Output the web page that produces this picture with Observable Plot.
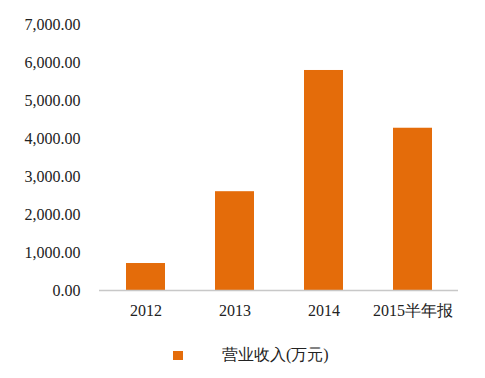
<!DOCTYPE html>
<html>
<head>
<meta charset="utf-8">
<script src="https://cdn.jsdelivr.net/npm/d3@7"></script>
<script src="https://cdn.jsdelivr.net/npm/@observablehq/plot@0.6"></script>
<style>
  html, body { margin: 0; padding: 0; background: #fff; }
  #wrap { position: relative; width: 485px; height: 378px; font-family: "Times New Roman", "Liberation Serif", "DejaVu Serif", serif; }
  #wrap svg text { font-family: "Times New Roman", "Liberation Serif", "DejaVu Serif", serif; }
  #legend { position: absolute; left: 173px; top: 343px; height: 24px; display: flex; align-items: center; font-size: 16px; color: #222; }
  #legend .sw { width: 10px; height: 9px; background: #e46c0a; margin-right: 39px; }
</style>
</head>
<body>
<div id="wrap"></div>
<script>
const categories = ["2012", "2013", "2014", "2015半年报"];
const revenue = [710, 2600, 5790, 4270];
const yTicks = [0, 1000, 2000, 3000, 4000, 5000, 6000, 7000];
const seriesName = "营业收入(万元)";
const barColor = "#e46c0a";

const data = categories.map((c, i) => ({category: c, value: revenue[i]}));

const chart = Plot.plot({
  width: 485,
  height: 330,
  marginLeft: 99,
  marginRight: 27,
  marginTop: 24,
  marginBottom: 40,
  style: {fontFamily: "'Times New Roman', 'Liberation Serif', serif", fontSize: "16px", color: "#222", background: "#fff"},
  x: {domain: categories, paddingInner: 0.565, paddingOuter: 0.2825, label: null},
  y: {domain: [0, 7000], label: null},
  marks: [
    Plot.barY(data, {x: "category", y: "value", fill: barColor}),
    Plot.ruleY([0], {stroke: "#c8c8c8", strokeWidth: 1.5}),
    Plot.axisY({ticks: yTicks, tickSize: 0, tickPadding: 19, tickFormat: d3.format(",.2f"), label: null, fontSize: 16}),
    Plot.axisX({tickSize: 0, tickPadding: 14, label: null, fontSize: 16})
  ]
});
const wrap = document.getElementById("wrap");
wrap.appendChild(chart);
const legend = document.createElement("div");
legend.id = "legend";
legend.innerHTML = `<div class="sw"></div><span>${seriesName}</span>`;
wrap.appendChild(legend);
</script>
</body>
</html>
